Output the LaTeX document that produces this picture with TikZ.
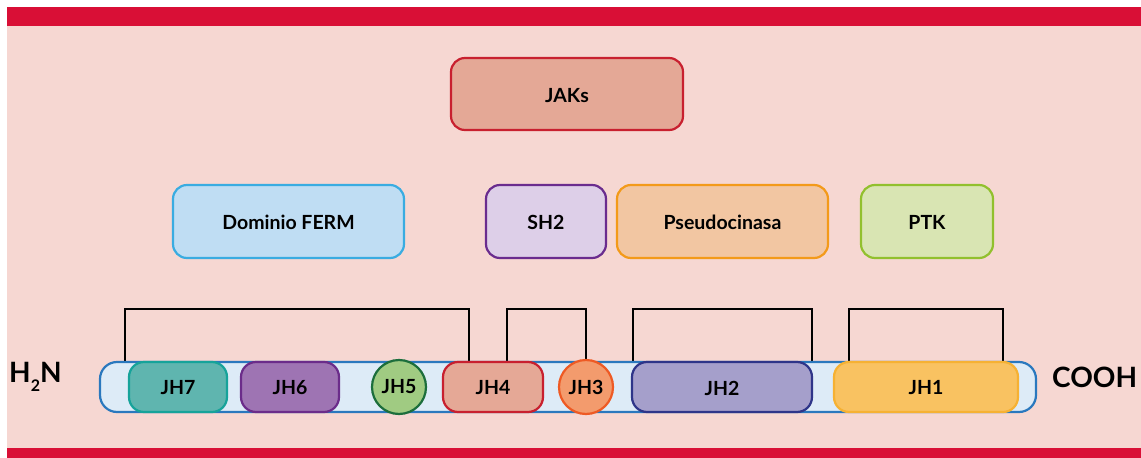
\documentclass[tikz,border=0pt]{standalone}
\usepackage{fontspec}
\setmainfont{Lato}
\begin{document}
\begin{tikzpicture}[x=1pt,y=-1pt,
  lbl/.style={font=\bfseries\fontsize{19.5}{22}\selectfont, text=black},
  dom/.style={rounded corners=14pt, line width=2.2pt},
  jh/.style={rounded corners=15pt, line width=2.2pt},
  jhc/.style={circle, line width=2.2pt, minimum size=54pt, inner sep=0pt},
  brk/.style={line width=2.6pt, black},
  endlbl/.style={font=\bfseries\fontsize{28}{32}\selectfont, anchor=west, inner sep=0pt}]
\definecolor{crim}{HTML}{D90F36}
\definecolor{bgp}{HTML}{F6D7D2}
\useasboundingbox (0,0) rectangle (1141,458);
\fill[white] (0,0) rectangle (1141,458);
\fill[bgp] (7,26) rectangle (1141,448);
\fill[crim] (7,7) rectangle (1141,26);
\fill[crim] (7,448) rectangle (1141,458);
% top
\draw[dom, draw={rgb,255:red,200;green,32;blue,47}, fill={rgb,255:red,228;green,168;blue,150}] (451,58) rectangle (683,130);
\node[lbl] (jaks) at (567,96) {JAKs};
% domains
\draw[dom, draw={rgb,255:red,58;green,172;blue,225}, fill={rgb,255:red,191;green,221;blue,243}] (173,185) rectangle (404,258);
\node[lbl] (ferm) at (288.5,222) {Dominio FERM};
\draw[dom, draw={rgb,255:red,106;green,44;blue,142}, fill={rgb,255:red,221;green,207;blue,232}] (486,185) rectangle (606,258);
\node[lbl] (sh2) at (546,222) {SH2};
\draw[dom, draw={rgb,255:red,243;green,154;blue,26}, fill={rgb,255:red,242;green,198;blue,162}] (617,185) rectangle (828,258);
\node[lbl] (pseudo) at (722.5,222) {Pseudocinasa};
\draw[dom, draw={rgb,255:red,146;green,192;blue,46}, fill={rgb,255:red,217;green,229;blue,179}] (861,185) rectangle (993,258);
\node[lbl] (ptk) at (927,222) {PTK};
% brackets
\draw[brk] (125,362) -- (125,309) -- (469,309) -- (469,362);
\draw[brk] (507,362) -- (507,309) -- (586,309) -- (586,362);
\draw[brk] (633,362) -- (633,309) -- (812,309) -- (812,362);
\draw[brk] (849,362) -- (849,309) -- (1003,309) -- (1003,362);
% bar
\draw[rounded corners=17pt, line width=2.2pt, draw={rgb,255:red,42;green,120;blue,190}, fill={rgb,255:red,221;green,235;blue,247}] (100,362) rectangle (1036,412);
\draw[jh, draw={rgb,255:red,22;green,163;blue,154}, fill={rgb,255:red,95;green,181;blue,175}] (129,362) rectangle (227,412);
\node[lbl] (jh7) at (178,388) {JH7};
\draw[jh, draw={rgb,255:red,107;green,44;blue,138}, fill={rgb,255:red,158;green,116;blue,179}] (241,362) rectangle (339,412);
\node[lbl] (jh6) at (290,388) {JH6};
\node[jhc, draw={rgb,255:red,28;green,110;blue,60}, fill={rgb,255:red,160;green,203;blue,130}, lbl] (jh5) at (399,387) {JH5};
\draw[jh, draw={rgb,255:red,200;green,32;blue,47}, fill={rgb,255:red,229;green,168;blue,150}] (443,362) rectangle (543,412);
\node[lbl] (jh4) at (493,388) {JH4};
\node[jhc, draw={rgb,255:red,238;green,90;blue,36}, fill={rgb,255:red,243;green,155;blue,109}, lbl] (jh3) at (586,387) {JH3};
\draw[jh, draw={rgb,255:red,46;green,53;blue,137}, fill={rgb,255:red,165;green,159;blue,203}] (632,362) rectangle (812,412);
\node[lbl] (jh2) at (722,388) {JH2};
\draw[jh, draw={rgb,255:red,246;green,177;blue,51}, fill={rgb,255:red,249;green,194;blue,97}] (834,362) rectangle (1018,412);
\node[lbl] (jh1) at (926,388) {JH1};
% ends
\node[endlbl] (h2n) at (9,377) {H\raisebox{-0.6ex}{\fontsize{16}{18}\selectfont 2}N};
\node[endlbl] (cooh) at (1052,377) {COOH};
\end{tikzpicture}
\end{document}
